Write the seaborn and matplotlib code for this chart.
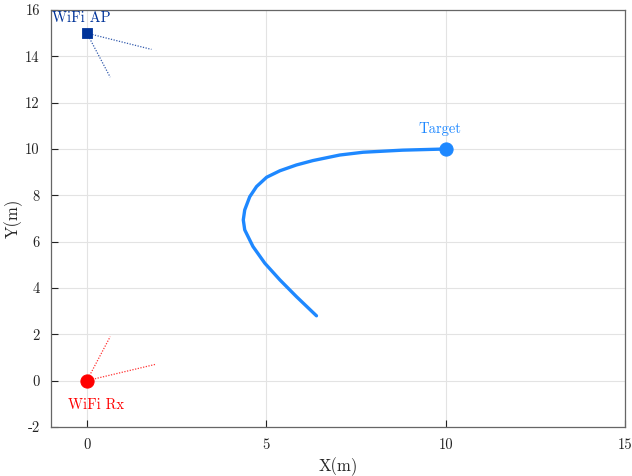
import matplotlib
matplotlib.use("Agg")
import matplotlib.pyplot as plt
import seaborn as sns
import pandas as pd

# Trajectory
traj_x = [10.0, 8.8, 7.70, 7.05, 6.30, 5.84, 5.38, 5.01, 4.73, 4.54, 4.40, 4.36, 4.40, 4.63, 4.96, 5.38, 5.84, 6.40]
traj_y = [10.0, 9.95, 9.86, 9.74, 9.50, 9.31, 9.06, 8.78, 8.38, 7.94, 7.37, 6.94, 6.51, 5.79, 5.07, 4.35, 3.63, 2.80]

ap_pos = (0.0, 15.0)
rx_pos = (0.0, 0.0)
target_pos = (10.0, 10.0)

ap_beam_x = [[0.0, 1.8], [0.0, 0.65]]
ap_beam_y = [[15.0, 14.3], [15.0, 13.1]]
rx_beam_x = [[0.0, 1.9], [0.0, 0.65]]
rx_beam_y = [[0.0, 0.7], [0.0, 1.9]]

xticks = [0, 5, 10, 15]
yticks = [-2, 0, 2, 4, 6, 8, 10, 12, 14, 16]

sns.set_theme(style="whitegrid")
plt.rcParams["font.family"] = ["cmr10", "DejaVu Serif"]
plt.rcParams["axes.unicode_minus"] = False
plt.rcParams["mathtext.fontset"] = "cm"

blue = "#1e88ff"
navy = "#003399"
red = "#ff0000"

fig = plt.figure(figsize=(6.32, 4.76), dpi=100)
ax = fig.add_axes([51/632, 1 - 427/476, (625-51)/632, (427-10)/476])

df = pd.DataFrame({"x": traj_x, "y": traj_y})
sns.lineplot(data=df, x="x", y="y", sort=False, estimator=None,
             color=blue, linewidth=2.4, ax=ax)

for bx, by in zip(ap_beam_x, ap_beam_y):
    ax.plot(bx, by, linestyle=(0, (1, 1.2)), color=navy, linewidth=0.9, alpha=0.8)
for bx, by in zip(rx_beam_x, rx_beam_y):
    ax.plot(bx, by, linestyle=(0, (1, 1.2)), color=red, linewidth=0.9, alpha=0.8)

sns.scatterplot(x=[ap_pos[0]], y=[ap_pos[1]], marker="s", s=55, color=navy, edgecolor=navy, ax=ax, zorder=5)
sns.scatterplot(x=[rx_pos[0]], y=[rx_pos[1]], marker="o", s=90, color=red, edgecolor=red, ax=ax, zorder=5)
sns.scatterplot(x=[target_pos[0]], y=[target_pos[1]], marker="o", s=90, color=blue, edgecolor=blue, ax=ax, zorder=5)

ax.text(-0.15, 15.35, "WiFi AP", color=navy, fontsize=10.5, ha="center", va="bottom")
ax.text(0.25, -0.75, "WiFi Rx", color=red, fontsize=10.5, ha="center", va="top")
ax.text(9.85, 10.55, "Target", color=blue, fontsize=10.5, ha="center", va="bottom")

ax.set_xlim(-1, 15)
ax.set_ylim(-2, 16)
ax.set_xticks(xticks)
ax.set_yticks(yticks)
ax.set_xlabel("X(m)", fontsize=12, labelpad=4)
ax.set_ylabel("Y(m)", fontsize=12, labelpad=2)
ax.tick_params(axis="both", direction="in", length=5, width=0.8, colors="#222222",
               labelsize=10.5, bottom=True, left=True, top=False, right=False, pad=8)
ax.grid(True, color="#e3e3e3", linewidth=0.8)
for side in ["left", "bottom", "top", "right"]:
    ax.spines[side].set_visible(True)
    ax.spines[side].set_color("#666666")
    ax.spines[side].set_linewidth(0.9)
ax.set_facecolor("white")

fig.savefig("out.png", dpi=100)
